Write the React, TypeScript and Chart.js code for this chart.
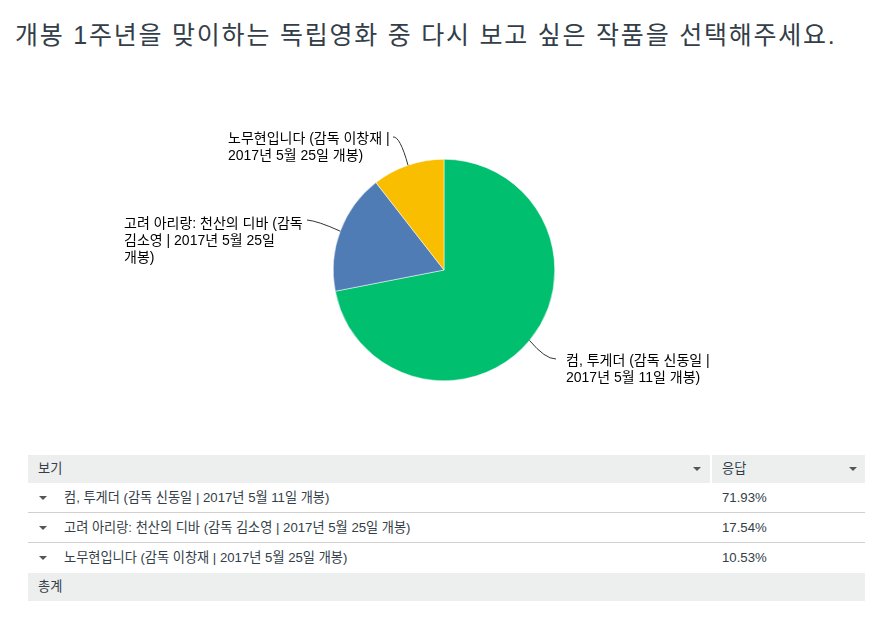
import React, { useEffect, useRef } from "react";
import { Chart, registerables } from "chart.js";

Chart.register(...registerables);

const title = "개봉 1주년을 맞이하는 독립영화 중 다시 보고 싶은 작품을 선택해주세요.";
const categories = [
  "컴, 투게더 (감독 신동일 | 2017년 5월 11일 개봉)",
  "고려 아리랑: 천산의 디바 (감독 김소영 | 2017년 5월 25일 개봉)",
  "노무현입니다 (감독 이창재 | 2017년 5월 25일 개봉)",
];
const labelLines = [
  ["컴, 투게더 (감독 신동일 |", "2017년 5월 11일 개봉)"],
  ["고려 아리랑: 천산의 디바 (감독", "김소영 | 2017년 5월 25일", "개봉)"],
  ["노무현입니다 (감독 이창재 |", "2017년 5월 25일 개봉)"],
];
const values = [71.93, 17.54, 10.53];
const colors = ["#00bf6f", "#507cb6", "#f9be00"];
const headerLabels = ["보기", "응답"];
const totalLabel = "총계";

const FONT = '"Liberation Sans", Arial, "Noto Sans CJK KR", sans-serif';

// label layout relative to pie center (dx,dy) in px: anchor of leader line end, text block
const labelLayout = [
  { ax: 112, ay: 89, cx: 101, cy: 89, tx: 122, ty: 91 },
  { ax: -137, ay: -50, cx: -126, cy: -49, tx: -320, ty: -46 },
  { ax: -51, ay: -133, cx: -44, cy: -134, tx: -216, ty: -131 },
];

const labelPlugin = {
  id: "outLabels",
  afterDraw(chart: any) {
    const ctx = chart.ctx;
    const meta = chart.getDatasetMeta(0);
    ctx.save();
    meta.data.forEach((arc: any, i: number) => {
      const mid = (arc.startAngle + arc.endAngle) / 2;
      const px = arc.x + Math.cos(mid) * arc.outerRadius;
      const py = arc.y + Math.sin(mid) * arc.outerRadius;
      const L = labelLayout[i];
      ctx.beginPath();
      ctx.strokeStyle = "#333333";
      ctx.lineWidth = 1;
      ctx.moveTo(px, py);
      ctx.quadraticCurveTo(arc.x + L.cx, arc.y + L.cy, arc.x + L.ax, arc.y + L.ay);
      ctx.stroke();
      ctx.fillStyle = "#000000";
      ctx.font = "14px " + FONT;
      ctx.textAlign = "left";
      ctx.textBaseline = "middle";
      labelLines[i].forEach((line, j) => {
        ctx.fillText(line, arc.x + L.tx, arc.y + L.ty + j * 17);
      });
    });
    ctx.restore();
  },
};

function Tri({ x, y }: { x: number; y: number }) {
  return (
    <div
      style={{
        position: "absolute",
        left: x,
        top: y,
        width: 0,
        height: 0,
        borderLeft: "4px solid transparent",
        borderRight: "4px solid transparent",
        borderTop: "4px solid #555",
      }}
    />
  );
}

export default function App() {
  const ref = useRef<HTMLCanvasElement>(null);
  useEffect(() => {
    document.body.style.margin = "0";
    const chart = new Chart(ref.current!, {
      type: "pie",
      data: {
        labels: categories,
        datasets: [
          {
            data: values,
            backgroundColor: colors,
            borderColor: "#ffffff",
            borderWidth: 0.5,
          },
        ],
      },
      options: {
        animation: false,
        responsive: false,
        maintainAspectRatio: false,
        layout: { padding: { left: 333, right: 338, top: 99, bottom: 59 } },
        plugins: { legend: { display: false }, tooltip: { enabled: false } },
      },
      plugins: [labelPlugin],
    });
    return () => chart.destroy();
  }, []);

  const rowTop = 483;
  const rowH = 30;
  const textStyle: React.CSSProperties = {
    position: "absolute",
    fontFamily: FONT,
    fontSize: 13.2,
    color: "#333e48",
    lineHeight: "16px",
    whiteSpace: "nowrap",
  };

  return (
    <div style={{ position: "relative", width: 893, height: 631, background: "#fff", overflow: "hidden" }}>
      <div
        style={{
          position: "absolute",
          left: 15,
          top: 18,
          fontFamily: FONT,
          fontSize: 25,
          letterSpacing: "1.78px",
          color: "#333e48",
          lineHeight: "34px",
          whiteSpace: "nowrap",
        }}
      >
        {title}
      </div>
      <canvas ref={ref} width={893} height={380} style={{ position: "absolute", left: 0, top: 60, width: 893, height: 380 }} />
      {/* header */}
      <div style={{ position: "absolute", left: 28, top: 455, width: 682, height: 28, background: "#edeeee" }} />
      <div style={{ position: "absolute", left: 712, top: 455, width: 153, height: 28, background: "#edeeee" }} />
      <div style={{ ...textStyle, left: 38, top: 461 }}>{headerLabels[0]}</div>
      <div style={{ ...textStyle, left: 722, top: 461 }}>{headerLabels[1]}</div>
      <Tri x={693} y={467} />
      <Tri x={849} y={467} />
      {categories.map((c, i) => (
        <React.Fragment key={i}>
          <Tri x={39} y={rowTop + i * rowH + 13} />
          <div style={{ ...textStyle, left: 64, top: rowTop + i * rowH + 7 }}>{c}</div>
          <div style={{ ...textStyle, left: 722, top: rowTop + i * rowH + 7 }}>{values[i].toFixed(2) + "%"}</div>
          {i < categories.length - 1 && (
            <div
              style={{
                position: "absolute",
                left: 28,
                top: rowTop + (i + 1) * rowH - 1,
                width: 837,
                height: 1,
                background: "#d0d0d0",
              }}
            />
          )}
        </React.Fragment>
      ))}
      <div style={{ position: "absolute", left: 28, top: 573, width: 837, height: 28, background: "#edeeee" }} />
      <div style={{ ...textStyle, left: 38, top: 579 }}>{totalLabel}</div>
    </div>
  );
}
